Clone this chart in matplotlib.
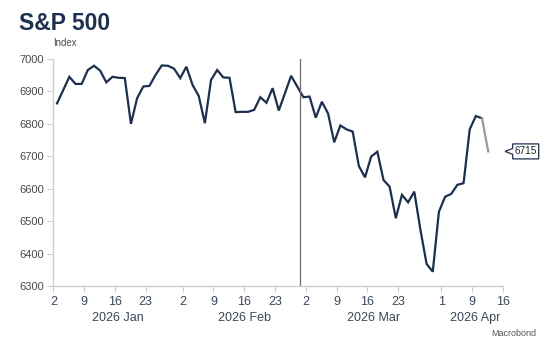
import numpy as np
import pandas as pd
import matplotlib
matplotlib.use("Agg")
from matplotlib import pyplot as plt
from matplotlib.patches import Polygon
import matplotlib.transforms as mtransforms

plt.rcParams['font.family'] = ['Liberation Sans', 'DejaVu Sans']

# trading-day axis (Good Friday dropped, other holidays carried forward)
holidays = ['2026-04-03']
dates = pd.bdate_range('2026-01-02', '2026-04-13', freq='C', holidays=holidays)
values = [6863, 6904, 6945, 6923, 6923, 6966, 6979, 6964, 6928, 6945,
          6942, 6941, 6800, 6879, 6915, 6917, 6951, 6980, 6979, 6970,
          6941, 6976, 6920, 6886, 6802, 6935, 6966, 6943, 6942, 6836,
          6837, 6837, 6843, 6882, 6865, 6910, 6841, 6894, 6948, 6915,
          6882, 6884, 6819, 6868, 6832, 6743, 6795, 6783, 6776, 6670,
          6635, 6699, 6714, 6627, 6606, 6509, 6581, 6558, 6591, 6473,
          6368, 6344, 6529, 6575, 6584, 6612, 6617, 6783, 6824, 6817,
          6715]
tick_dates = ['2026-01-02', '2026-01-09', '2026-01-16', '2026-01-23',
              '2026-02-02', '2026-02-09', '2026-02-16', '2026-02-23',
              '2026-03-02', '2026-03-09', '2026-03-16', '2026-03-23',
              '2026-04-01', '2026-04-09', '2026-04-16']
months = ['2026 Jan', '2026 Feb', '2026 Mar', '2026 Apr']
month_ranges = [('2026-01-02', '2026-01-30'), ('2026-02-02', '2026-02-27'),
                ('2026-03-02', '2026-03-31'), ('2026-04-01', '2026-04-16')]
event_date = '2026-02-27'
last_label = '6715'

start = '2026-01-02'
def pos(d):
    return np.busday_count(start, np.datetime64(pd.Timestamp(d).date()), holidays=holidays)

navy = '#1d2f4e'
grey_axis = '#cfcfcf'

x = np.array([pos(d) for d in dates]) + 0.6
y = np.array(values)

fig = plt.figure(figsize=(5.5, 3.52), dpi=100)
ax = fig.add_axes([0.097, 0.1875, 0.8175, 0.645])

ax.plot(x[:-1], y[:-1], color=navy, lw=1.6, solid_joinstyle='miter')
ax.plot(x[-2:], y[-2:], color='#9a9a9a', lw=1.6)
ax.axvline(pos(event_date), color='#6b6b6b', lw=0.9)

ax.set_xlim(0, pos('2026-04-16'))
ax.set_ylim(6300, 7000)
ax.set_yticks(range(6300, 7001, 100))
ax.set_xticks([pos(d) for d in tick_dates])
ax.set_xticklabels([str(pd.Timestamp(d).day) for d in tick_dates])

for s in ['top', 'right']:
    ax.spines[s].set_visible(False)
for s in ['left', 'bottom']:
    ax.spines[s].set_color(grey_axis)
    ax.spines[s].set_linewidth(1)
ax.tick_params(axis='y', length=4, color=grey_axis, labelsize=8, labelcolor='#4a4a4a', pad=3)
ax.tick_params(axis='x', length=4, color=grey_axis, labelsize=9, labelcolor='#3a475a', pad=3)

for m, (a, b) in zip(months, month_ranges):
    c = (pos(a) + pos(b)) / 2 + 0.5
    ax.text(c, -0.115, m, transform=ax.get_xaxis_transform(), ha='center', va='top',
            fontsize=9, color='#3a475a')

# callout for last value
trans = mtransforms.IdentityTransform() + mtransforms.ScaledTranslation(x[-1], y[-1], ax.transData)
box = [(17, 0), (24.5, 3), (24.5, 7.5), (50.5, 7.5), (50.5, -7.5), (24.5, -7.5), (24.5, -3)]
ax.add_patch(Polygon(box, closed=True, transform=trans, fc='white', ec=navy, lw=0.9, clip_on=False))
ax.text(37.5, 0, last_label, transform=trans, ha='center', va='center', fontsize=7.2, color='#222222')

fig.text(0.035, 0.965, 'S&P 500', fontsize=16.5, fontweight='bold', color=navy, va='top', ha='left')
fig.text(0.097, 0.865, 'Index', fontsize=7, color='#4a4a4a', va='bottom', ha='left')
fig.text(0.975, 0.04, 'Macrobond', fontsize=6.5, color='#555555', ha='right', va='bottom')

fig.savefig('out.png', dpi=100)
